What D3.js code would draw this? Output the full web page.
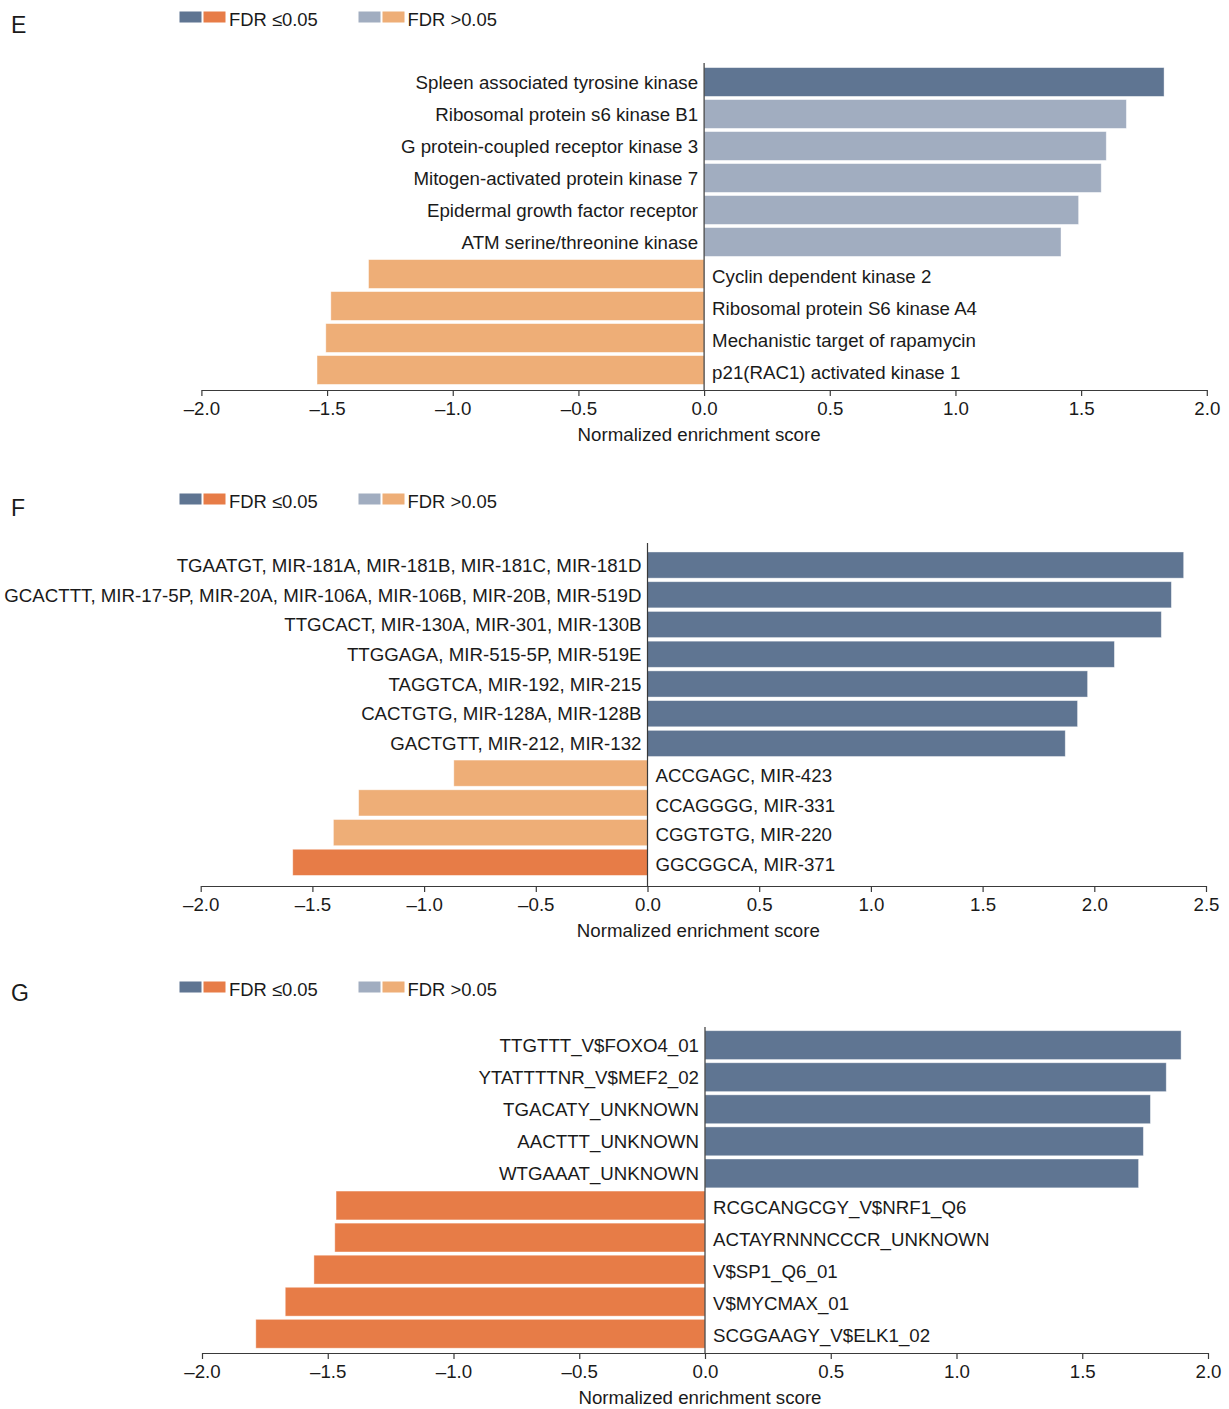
<!DOCTYPE html>
<html><head><meta charset="utf-8">
<script src="https://cdn.jsdelivr.net/npm/d3@7"></script>
<style>
html,body{margin:0;padding:0;background:#fff;}
text{font-family:"Liberation Sans",Arial,Helvetica,sans-serif;fill:#1a1a1a;}
</style></head>
<body>
<svg id="chart" width="1229" height="1409"></svg>
<script>
// ---------- DATA ----------
const eLabels = ["Spleen associated tyrosine kinase","Ribosomal protein s6 kinase B1","G protein-coupled receptor kinase 3","Mitogen-activated protein kinase 7","Epidermal growth factor receptor","ATM serine/threonine kinase","Cyclin dependent kinase 2","Ribosomal protein S6 kinase A4","Mechanistic target of rapamycin","p21(RAC1) activated kinase 1"];
const eNES = [1.83,1.68,1.60,1.58,1.49,1.42,-1.335,-1.485,-1.505,-1.54];
const eSig = [true,false,false,false,false,false,false,false,false,false];

const fLabels = ["TGAATGT, MIR-181A, MIR-181B, MIR-181C, MIR-181D","GCACTTT, MIR-17-5P, MIR-20A, MIR-106A, MIR-106B, MIR-20B, MIR-519D","TTGCACT, MIR-130A, MIR-301, MIR-130B","TTGGAGA, MIR-515-5P, MIR-519E","TAGGTCA, MIR-192, MIR-215","CACTGTG, MIR-128A, MIR-128B","GACTGTT, MIR-212, MIR-132","ACCGAGC, MIR-423","CCAGGGG, MIR-331","CGGTGTG, MIR-220","GGCGGCA, MIR-371"];
const fNES = [2.40,2.345,2.30,2.09,1.97,1.925,1.87,-0.867,-1.293,-1.406,-1.588];
const fSig = [true,true,true,true,true,true,true,false,false,false,true];

const gLabels = ["TTGTTT_V$FOXO4_01","YTATTTTNR_V$MEF2_02","TGACATY_UNKNOWN","AACTTT_UNKNOWN","WTGAAAT_UNKNOWN","RCGCANGCGY_V$NRF1_Q6","ACTAYRNNNCCCR_UNKNOWN","V$SP1_Q6_01","V$MYCMAX_01","SCGGAAGY_V$ELK1_02"];
const gNES = [1.893,1.834,1.771,1.743,1.724,-1.467,-1.472,-1.555,-1.669,-1.786];
const gSig = [true,true,true,true,true,true,true,true,true,true];

const eTicks = [-2,-1.5,-1,-0.5,0,0.5,1,1.5,2];
const fTicks = [-2,-1.5,-1,-0.5,0,0.5,1,1.5,2,2.5];
const gTicks = [-2,-1.5,-1,-0.5,0,0.5,1,1.5,2];

const legendItems = ["FDR \u22640.05","FDR >0.05"];
const axisTitle = "Normalized enrichment score";

// ---------- STYLE ----------
const C = {sigPos:"#5f7592", nsPos:"#a1adc0", sigNeg:"#e77c47", nsNeg:"#eeae77", axis:"#3a3a3a"};
const FS = 18.7;

const svg = d3.select("#chart");

function fmt(v){ const s = d3.format(".1f")(Math.abs(v)); return v < 0 ? "\u2013" + s : s; }

function panel(cfg){
  const g = svg.append("g");
  // letter
  g.append("text").attr("x", 11).attr("y", cfg.letterY).attr("font-size", 23).text(cfg.letter);
  // legend
  const lg = g.append("g");
  lg.append("rect").attr("x",179.5).attr("y",cfg.legendY-5.5).attr("width",22).attr("height",11).attr("fill",C.sigPos);
  lg.append("rect").attr("x",203.5).attr("y",cfg.legendY-5.5).attr("width",22).attr("height",11).attr("fill",C.sigNeg);
  lg.append("text").attr("x",229).attr("y",cfg.legendY+2).attr("dy","0.36em").attr("font-size",18.4).text(legendItems[0]);
  lg.append("rect").attr("x",358.5).attr("y",cfg.legendY-5.5).attr("width",22).attr("height",11).attr("fill",C.nsPos);
  lg.append("rect").attr("x",382.5).attr("y",cfg.legendY-5.5).attr("width",22).attr("height",11).attr("fill",C.nsNeg);
  lg.append("text").attr("x",407.5).attr("y",cfg.legendY+2).attr("dy","0.36em").attr("font-size",18.4).text(legendItems[1]);

  const x = d3.scaleLinear().domain(cfg.domain).range(cfg.xRange);
  const y = d3.scaleBand().domain(d3.range(cfg.labels.length)).range(cfg.yRange)
              .paddingInner(cfg.padIn).paddingOuter(cfg.padIn/2);
  const data = cfg.labels.map((l,i)=>({label:l, v:cfg.values[i], sig:cfg.sig[i], i}));
  const x0 = x(0);

  g.selectAll("rect.bar").data(data).join("rect").attr("class","bar")
    .attr("x", d => Math.min(x(d.v), x0))
    .attr("width", d => Math.abs(x(d.v) - x0))
    .attr("y", d => y(d.i))
    .attr("height", y.bandwidth())
    .attr("fill", d => d.v >= 0 ? (d.sig ? C.sigPos : C.nsPos) : (d.sig ? C.sigNeg : C.nsNeg))
    .attr("stroke", "rgba(255,255,255,0.5)").attr("stroke-width", 0.8);

  g.selectAll("text.lab").data(data).join("text").attr("class","lab")
    .attr("x", d => d.v >= 0 ? x0 - 6 : x0 + 8)
    .attr("y", d => y(d.i) + y.bandwidth()/2 + (d.v >= 0 ? 0 : 2))
    .attr("dy","0.36em")
    .attr("text-anchor", d => d.v >= 0 ? "end" : "start")
    .attr("font-size", FS)
    .text(d => d.label);

  // zero line
  g.append("line").attr("x1",x0).attr("x2",x0).attr("y1",cfg.zeroTop).attr("y2",cfg.axisY)
    .attr("stroke",C.axis).attr("stroke-width",1.2);

  // axis
  const ax = g.append("g").attr("transform",`translate(0,${cfg.axisY})`)
    .call(d3.axisBottom(x).tickValues(cfg.ticks).tickFormat(fmt).tickSize(6).tickSizeOuter(0).tickPadding(6));
  ax.select(".domain").attr("stroke",C.axis).attr("stroke-width",1.2);
  ax.selectAll(".tick line").attr("stroke",C.axis).attr("stroke-width",1.2);
  ax.selectAll(".tick text").attr("font-size",FS).attr("font-family",'"Liberation Sans",Arial,sans-serif').attr("fill","#1a1a1a");

  g.append("text").attr("x", (cfg.xRange[0]+cfg.xRange[1])/2 - 5).attr("y", cfg.axisY + 51)
    .attr("text-anchor","middle").attr("font-size",FS).text(axisTitle);
}

panel({letter:"E", letterY:33, legendY:17, labels:eLabels, values:eNES, sig:eSig, ticks:eTicks,
  domain:[-2,2], xRange:[201.4,1206.8], yRange:[66,386], padIn:0.1, zeroTop:63, axisY:390});
panel({letter:"F", letterY:516, legendY:499, labels:fLabels, values:fNES, sig:fSig, ticks:fTicks,
  domain:[-2,2.5], xRange:[200.7,1206], yRange:[550.2,877.2], padIn:0.12, zeroTop:543, axisY:886});
panel({letter:"G", letterY:1001, legendY:987, labels:gLabels, values:gNES, sig:gSig, ticks:gTicks,
  domain:[-2,2], xRange:[202,1208], yRange:[1029.1,1349.8], padIn:0.1, zeroTop:1027, axisY:1353});
</script>
</body></html>
